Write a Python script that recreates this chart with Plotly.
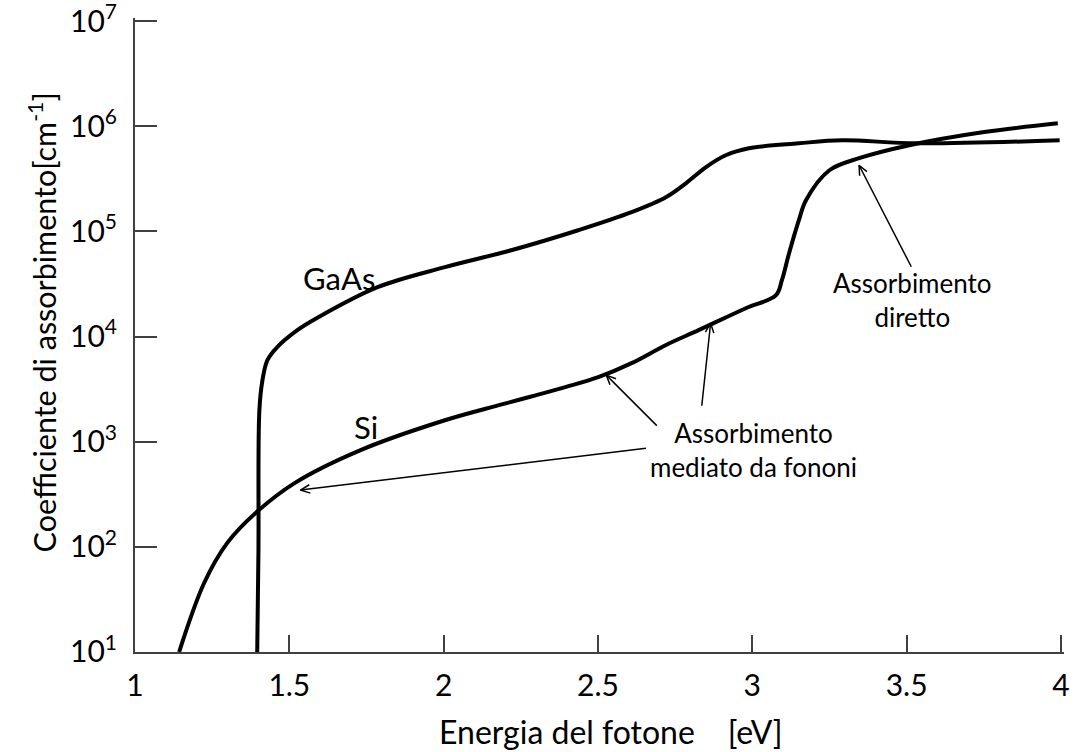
import math
import plotly.graph_objects as go

# ---------------- data ----------------
gaas_energy = [1.396, 1.400, 1.403, 1.413, 1.429, 1.461, 1.526, 1.591, 1.786, 2.004,
               2.219, 2.436, 2.609, 2.720, 2.785, 2.849, 2.914, 2.989, 3.151, 3.291,
               3.532, 3.996]
gaas_alpha = [10, 93, 2000, 3850, 5970, 7940, 11500, 15100, 29500, 45700,
              66200, 102600, 152400, 211300, 287000, 407000, 530000, 618000, 689000, 736000,
              689000, 736000]

si_energy = [1.143, 1.224, 1.299, 1.390, 1.517, 1.731, 2.004, 2.176, 2.284, 2.394,
             2.501, 2.609, 2.719, 2.826, 2.979, 3.077, 3.096, 3.119, 3.151, 3.174,
             3.249, 3.346, 3.509, 3.746, 3.990]
si_alpha = [10, 45.3, 109, 209, 404, 832, 1600, 2213, 2690, 3304,
            4111, 5585, 8280, 11500, 18600, 24800, 34400, 61700, 128000, 198000,
            380000, 497000, 661000, 877000, 1070000]

x_tick_vals = [1, 1.5, 2, 2.5, 3, 3.5, 4]
x_tick_text = ["1", "1.5", "2", "2.5", "3", "3.5", "4"]
y_tick_vals = [1e1, 1e2, 1e3, 1e4, 1e5, 1e6, 1e7]
y_tick_text = ["10<sup>1</sup>", "10<sup>2</sup>", "10<sup>3</sup>", "10<sup>4</sup>",
               "10<sup>5</sup>", "10<sup>6</sup>", "10<sup>7</sup>"]

# arrow tips (energy, alpha) and the pixel offset of each arrow's tail
arrow_tips = [(3.346, 4.26e5), (2.527, 4.30e3), (2.865, 1.34e4), (1.536, 347)]
arrow_tails = [(53, 103), (52, 52), (-9, 84), (347, -42)]

FONT = "Lato"
AX_COLOR = "#404040"

fig = go.Figure()
fig.add_trace(go.Scatter(x=gaas_energy, y=gaas_alpha, mode="lines", name="GaAs",
                         line=dict(color="black", width=4, shape="spline", smoothing=1.0)))
fig.add_trace(go.Scatter(x=si_energy, y=si_alpha, mode="lines", name="Si",
                         line=dict(color="black", width=4, shape="spline", smoothing=1.0)))

ann = []
lab_font = dict(family=FONT, size=31, color="black")
ann.append(dict(x=1.66, y=4.555, text="GaAs", showarrow=False, font=lab_font,
                xanchor="center", yanchor="middle"))
ann.append(dict(x=1.747, y=3.139, text="Si", showarrow=False, font=lab_font,
                xanchor="center", yanchor="middle"))
txt_font = dict(family=FONT, size=26, color="black")
ann.append(dict(x=3.519, y=4.346, text="Assorbimento<br>diretto", showarrow=False,
                font=txt_font, xanchor="center", yanchor="middle"))
ann.append(dict(x=3.005, y=2.92, text="Assorbimento<br>mediato da fononi", showarrow=False,
                font=txt_font, xanchor="center", yanchor="middle"))

# arrows with open "V" heads
for (ex, ay_val), (dx, dy) in zip(arrow_tips, arrow_tails):
    ly = math.log10(ay_val)
    ann.append(dict(x=ex, y=ly, ax=dx, ay=dy, text="", showarrow=True, arrowhead=0,
                    arrowwidth=1.5, arrowcolor="black"))
    L = math.hypot(dx, dy)
    ux, uy = dx / L, dy / L
    for ang in (0.42, -0.42):
        c, s = math.cos(ang), math.sin(ang)
        hx = (ux * c - uy * s) * 12
        hy = (ux * s + uy * c) * 12
        ann.append(dict(x=ex, y=ly, ax=hx, ay=hy, text="", showarrow=True, arrowhead=0,
                        arrowwidth=1.5, arrowcolor="black"))

# axis titles
ann.append(dict(xref="paper", yref="paper", x=0.512, y=-0.126,
                text="Energia del fotone \u00a0\u00a0\u00a0[eV]", showarrow=False,
                font=dict(family=FONT, size=32, color="black"),
                xanchor="center", yanchor="middle"))
ann.append(dict(xref="paper", yref="paper", x=-0.1, y=0.52, textangle=-90,
                text="Coefficiente di assorbimento[cm<sup>-1</sup>]", showarrow=False,
                font=dict(family=FONT, size=30.5, color="black"),
                xanchor="center", yanchor="middle"))

fig.update_layout(
    width=1078, height=752,
    margin=dict(l=135, r=14, t=18, b=100, autoexpand=False),
    paper_bgcolor="white", plot_bgcolor="white",
    showlegend=False,
    annotations=ann,
    font=dict(family=FONT, color="black"),
)
fig.update_xaxes(range=[1.0, 4.01], tickmode="array", tickvals=x_tick_vals, ticktext=x_tick_text,
                 showgrid=False, zeroline=False, showline=True, linecolor=AX_COLOR, linewidth=2,
                 ticks="inside", ticklen=17, tickwidth=2, tickcolor=AX_COLOR,
                 tickfont=dict(family=FONT, size=30, color="black"), ticklabelstandoff=6,
                 ticklabeloverflow="allow", automargin=False)
fig.update_yaxes(type="log", range=[0.9999, 7.03], tickmode="array", tickvals=y_tick_vals,
                 ticktext=y_tick_text,
                 showgrid=False, zeroline=False, showline=True, linecolor=AX_COLOR, linewidth=2,
                 ticks="inside", ticklen=22, tickwidth=2, tickcolor=AX_COLOR,
                 tickfont=dict(family=FONT, size=30, color="black"), ticklabelstandoff=10,
                 ticklabeloverflow="allow", automargin=False)

fig.write_html("out.html")
